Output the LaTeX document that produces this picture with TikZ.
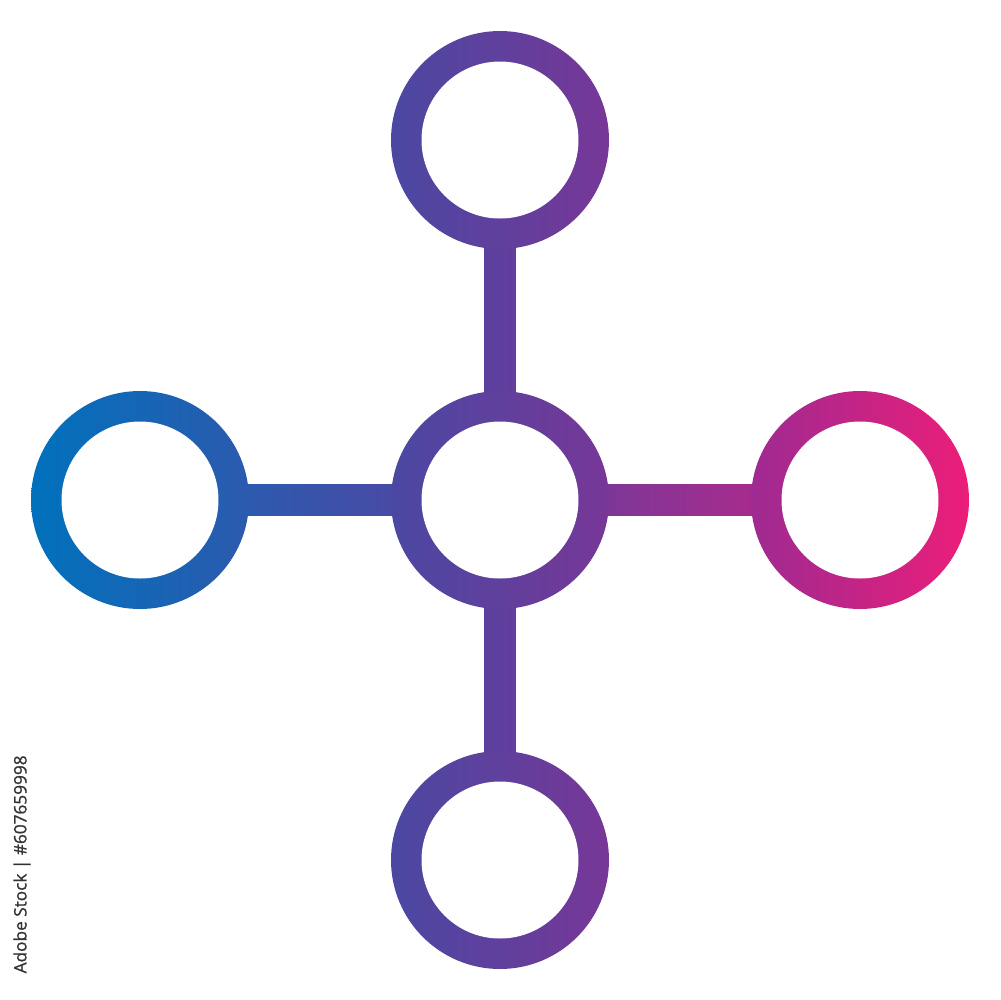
\documentclass[tikz,border=0pt]{standalone}
\usepackage{fontspec}
\setsansfont{Open Sans}[FakeBold=1]
\begin{document}
\begin{tikzpicture}[x=0.1mm, y=-0.1mm,
		ring/.style={circle, inner sep=0pt, minimum size=21.8mm,
			path picture={\fill[white] (path picture bounding box.center) circle (7.85mm);}}]
			% Gradient stops (left to right)
			\definecolor{g032}{HTML}{0071BC}
			\definecolor{g140}{HTML}{1666B5}
			\definecolor{g248}{HTML}{2C5AAE}
			\definecolor{g392}{HTML}{4A48A2}
			\definecolor{g500}{HTML}{5F3F9E}
			\definecolor{g608}{HTML}{773797}
			\definecolor{g752}{HTML}{9E2A92}
			\definecolor{g860}{HTML}{C52486}
			\definecolor{g968}{HTML}{EC1E79}
			\useasboundingbox (0,0) rectangle (1000,1000);
			
			% Hub positions
			\coordinate (p-c) at (500,500);
			\coordinate (p-t) at (500,140);
			\coordinate (p-b) at (500,860);
			\coordinate (p-l) at (140,500);
			\coordinate (p-r) at (860,500);
			
			% Connections
			\shade[left color=g140, right color=g500] ([yshift=-1.55mm]p-l) rectangle ([yshift=1.55mm]p-c);
			\shade[left color=g500, right color=g860] ([yshift=-1.55mm]p-c) rectangle ([yshift=1.55mm]p-r);
			\foreach \p in {t,b} {
				\shade[left color=g392!14!g500, right color=g608!14!g500] ([xshift=-1.55mm]p-\p) rectangle ([xshift=1.55mm]p-c);
			}
			
			% Rings
			\node[ring, left color=g032, right color=g248] (left) at (p-l) {};
			\node[ring, left color=g392, right color=g608] (center) at (p-c) {};
			\node[ring, left color=g392, right color=g608] (top) at (p-t) {};
			\node[ring, left color=g392, right color=g608] (bottom) at (p-b) {};
			\node[ring, left color=g752, right color=g968] (right) at (p-r) {};
			
			% Stock label
			\node[rotate=90, anchor=west, inner sep=0pt, text=black!80, font=\sffamily\fontsize{4.9}{5}\selectfont] (stock) at (22,974) {Adobe Stock | \#607659998};
		\end{tikzpicture}
\end{document}
